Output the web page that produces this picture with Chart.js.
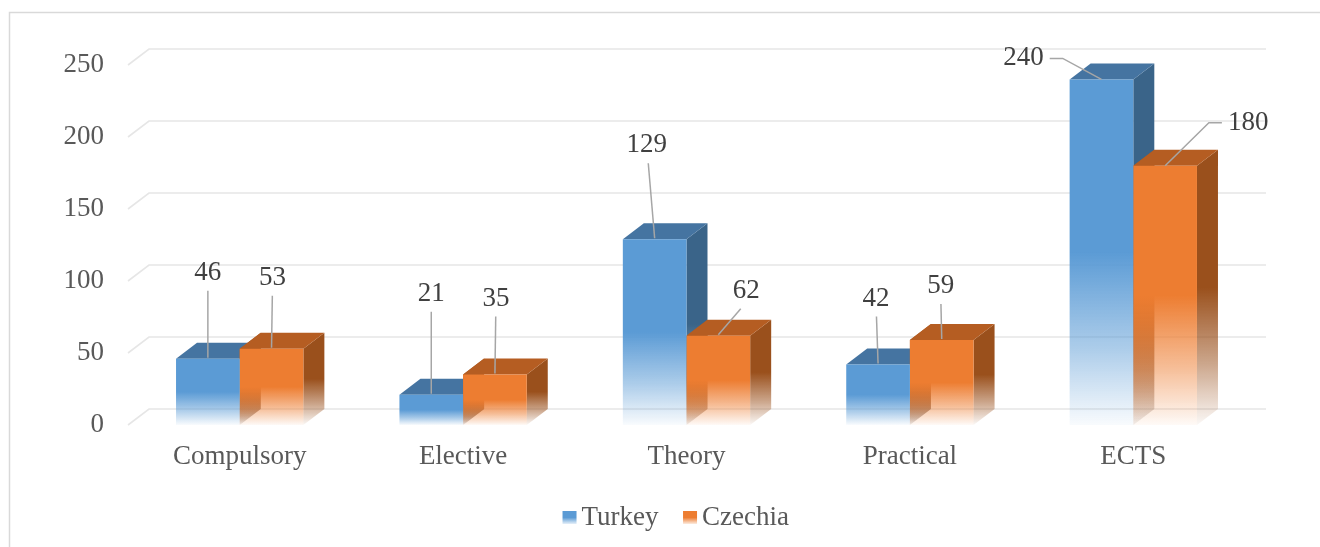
<!DOCTYPE html>
<html>
<head>
<meta charset="utf-8">
<script src="https://cdn.jsdelivr.net/npm/chart.js@4/dist/chart.umd.min.js"></script>
<style>
  html, body { margin: 0; padding: 0; background: #ffffff; }
  canvas { display: block; }
</style>
</head>
<body>
<canvas id="chart" width="1320" height="547"></canvas>
<script>
// ---- data ----
const categories = ['Compulsory', 'Elective', 'Theory', 'Practical', 'ECTS'];
const seriesNames = ['Turkey', 'Czechia'];
const turkey = [46, 21, 129, 42, 240];
const czechia = [53, 35, 62, 59, 180];
const yTicks = [0, 50, 100, 150, 200, 250];

// where each value label sits, relative to the front-top centre of its bar
const turkeyLabelOffsets = [[0, -86], [0, -101], [-8, -94], [-2, -66], [-78, -21]];
const czechiaLabelOffsets = [[1, -71], [1, -76], [28, -45], [-1, -54], [83, -43]];

// ---- styling ----
const FONT = '"Liberation Serif", "Times New Roman", serif';
const DX = 21;   // horizontal depth of the 3D boxes
const DY = 16;   // vertical depth of the 3D boxes
const palette = [
  { front: '#5b9bd5', top: '#4574a1', side: '#3a6489' },
  { front: '#ed7d31', top: '#b55d22', side: '#9a501c', inner: '#a65a24' }
];
const labelOffsets = [turkeyLabelOffsets, czechiaLabelOffsets];

function rgba(hex, a) {
  const n = parseInt(hex.slice(1), 16);
  return `rgba(${(n >> 16) & 255},${(n >> 8) & 255},${n & 255},${a})`;
}

// solid colour that fades out towards the floor
function fadeGradient(ctx, hex, yTop, yBase) {
  const g = ctx.createLinearGradient(0, yTop, 0, yBase);
  g.addColorStop(0, rgba(hex, 1));
  g.addColorStop(0.5, rgba(hex, 1));
  g.addColorStop(0.78, rgba(hex, 0.5));
  g.addColorStop(1, rgba(hex, 0.04));
  return g;
}

function polygon(ctx, pts, fill) {
  ctx.beginPath();
  ctx.moveTo(pts[0][0], pts[0][1]);
  for (let k = 1; k < pts.length; k++) ctx.lineTo(pts[k][0], pts[k][1]);
  ctx.closePath();
  ctx.fillStyle = fill;
  ctx.fill();
}

function frontFill(index) {
  return (c) => {
    const chart = c.chart;
    if (c.type !== 'data' || !chart.chartArea) return palette[index].front;
    const y = chart.scales.y;
    return fadeGradient(chart.ctx, palette[index].front,
      y.getPixelForValue(c.raw), y.getPixelForValue(0));
  };
}

// frame, back-wall grid, the top/side faces of the boxes, value labels, legend swatches
const depthPlugin = {
  id: 'depth3d',
  afterLayout(chart) {
    // centre the legend row under the plot rather than under the whole canvas
    const lg = chart.legend;
    if (lg) {
      lg.left = 112;
      lg.width = lg.right - lg.left;
    }
  },
  beforeDraw(chart) {
    const ctx = chart.ctx;
    ctx.save();
    ctx.strokeStyle = '#d9d9d9';
    ctx.lineWidth = 1.5;
    ctx.beginPath();
    ctx.moveTo(9.5, chart.height);
    ctx.lineTo(9.5, 12.5);
    ctx.lineTo(chart.width, 12.5);
    ctx.stroke();
    ctx.restore();
  },
  beforeDatasetsDraw(chart) {
    const { ctx, chartArea, scales: { y } } = chart;
    ctx.save();
    ctx.strokeStyle = '#e6e6e6';
    ctx.lineWidth = 1.6;
    y.ticks.forEach(t => {
      const py = y.getPixelForValue(t.value);
      ctx.beginPath();
      ctx.moveTo(chartArea.left, py);
      ctx.lineTo(chartArea.left + DX, py - DY);
      ctx.lineTo(chartArea.right + DX, py - DY);
      ctx.stroke();
    });

    const metas = [chart.getDatasetMeta(0), chart.getDatasetMeta(1)];
    for (let i = 0; i < categories.length; i++) {
      metas.forEach((meta, d) => {
        const bar = meta.data[i];
        const { x, y: top, base, width } = bar.getProps(['x', 'y', 'base', 'width'], true);
        const l = x - width / 2, r = x + width / 2;
        const col = palette[d];
        if (col.inner) {
          polygon(ctx, [[l, top], [l + DX, top - DY], [l + DX, base - DY], [l, base]],
            fadeGradient(ctx, col.inner, top, base));
        }
        polygon(ctx, [[r, top], [r + DX, top - DY], [r + DX, base - DY], [r, base]],
          fadeGradient(ctx, col.side, top - DY, base));
        polygon(ctx, [[l, top], [r, top], [r + DX, top - DY], [l + DX, top - DY]], col.top);
      });
    }
    ctx.restore();
  },
  afterDatasetsDraw(chart) {
    const ctx = chart.ctx;
    ctx.save();
    ctx.font = `27px ${FONT}`;
    ctx.textAlign = 'center';
    ctx.textBaseline = 'middle';
    [0, 1].forEach(d => {
      const meta = chart.getDatasetMeta(d);
      meta.data.forEach((bar, i) => {
        const bx = bar.x, by = bar.y;
        const off = labelOffsets[d][i];
        const lx = bx + off[0], ly = by + off[1];
        const text = String(chart.data.datasets[d].data[i]);
        const w = ctx.measureText(text).width;
        ctx.strokeStyle = '#a6a6a6';
        ctx.lineWidth = 1.5;
        ctx.beginPath();
        if (Math.abs(off[0]) > 60) {
          const s = off[0] < 0 ? 1 : -1;
          const sx = lx + s * (w / 2 + 6);
          ctx.moveTo(sx, ly);
          ctx.lineTo(sx + s * 13, ly);
          ctx.lineTo(bx, by);
        } else {
          ctx.moveTo(lx + (bx - lx) * 0.2, ly + 18);
          ctx.lineTo(bx, by - 1);
        }
        ctx.stroke();
        ctx.fillStyle = '#404040';
        ctx.fillText(text, lx, ly);
      });
    });
    ctx.restore();
  },
  afterDraw(chart) {
    const ctx = chart.ctx;
    const boxes = chart.legend && chart.legend.legendHitBoxes;
    if (!boxes) return;
    ctx.save();
    boxes.forEach((h, i) => {
      const bx = h.left - 5.5;
      const by = h.top + h.height / 2 - 7;
      const g = ctx.createLinearGradient(0, by, 0, by + 13);
      g.addColorStop(0, rgba(palette[i].front, 1));
      g.addColorStop(0.5, rgba(palette[i].front, 1));
      g.addColorStop(1, rgba(palette[i].front, 0.15));
      ctx.fillStyle = g;
      ctx.fillRect(bx, by, 14, 13);
    });
    ctx.restore();
  }
};

new Chart(document.getElementById('chart'), {
  type: 'bar',
  data: {
    labels: categories,
    datasets: [
      { label: seriesNames[0], data: turkey, backgroundColor: frontFill(0), borderWidth: 0 },
      { label: seriesNames[1], data: czechia, backgroundColor: frontFill(1), borderWidth: 0 }
    ]
  },
  options: {
    responsive: false,
    devicePixelRatio: 1,
    animation: false,
    events: [],
    layout: { padding: { left: 40, right: 75, top: 65, bottom: 5.5 } },
    datasets: { bar: { categoryPercentage: 0.57, barPercentage: 1 } },
    scales: {
      x: {
        grid: { display: false, drawTicks: false },
        border: { display: false },
        ticks: { color: '#595959', font: { family: FONT, size: 27 }, padding: 16 },
        afterFit(s) { s.height = 49.5; }
      },
      y: {
        min: 0,
        max: 250,
        afterBuildTicks(s) { s.ticks = yTicks.map(v => ({ value: v })); },
        grid: { display: false, drawTicks: false },
        border: { display: false },
        ticks: { color: '#595959', font: { family: FONT, size: 27 }, padding: 24 },
        afterFit(s) { s.width = 88; }
      }
    },
    plugins: {
      tooltip: { enabled: false },
      legend: {
        position: 'bottom',
        labels: {
          boxWidth: 0,
          boxHeight: 13,
          padding: 30,
          color: '#595959',
          font: { family: FONT, size: 27 },
          generateLabels(chart) {
            return chart.data.datasets.map((ds, i) => ({
              text: ds.label,
              fillStyle: 'rgba(0,0,0,0)',
              strokeStyle: 'rgba(0,0,0,0)',
              lineWidth: 0,
              fontColor: '#595959',
              datasetIndex: i,
              hidden: false
            }));
          }
        }
      }
    }
  },
  plugins: [depthPlugin]
});
</script>
</body>
</html>
